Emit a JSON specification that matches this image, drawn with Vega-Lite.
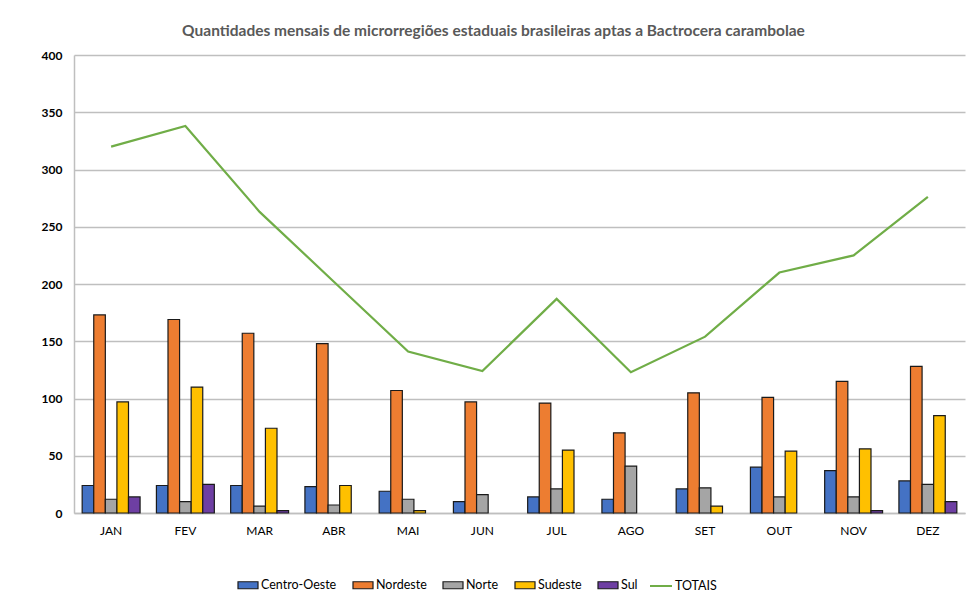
{
  "$schema": "https://vega.github.io/schema/vega-lite/v6.json",
  "width": 891,
  "height": 458,
  "autosize": "none",
  "padding": {"left": 74, "top": 55, "right": 5, "bottom": 87},
  "background": "white",
  "config": {"font": "Lato", "view": {"stroke": null}},
  "title": {
    "text": "Quantidades mensais de microrregiões estaduais brasileiras aptas a Bactrocera carambolae",
    "fontSize": 15.5,
    "fontWeight": "bold",
    "color": "#595959",
    "font": "Lato",
    "offset": 10,
    "dx": -26
  },
  "data": {
    "values": [
      {"mes": "JAN", "regiao": "Centro-Oeste", "v": 24},
      {"mes": "JAN", "regiao": "Nordeste", "v": 173},
      {"mes": "JAN", "regiao": "Norte", "v": 12},
      {"mes": "JAN", "regiao": "Sudeste", "v": 97},
      {"mes": "JAN", "regiao": "Sul", "v": 14},
      {"mes": "JAN", "regiao": "TOTAIS", "v": 320},
      {"mes": "FEV", "regiao": "Centro-Oeste", "v": 24},
      {"mes": "FEV", "regiao": "Nordeste", "v": 169},
      {"mes": "FEV", "regiao": "Norte", "v": 10},
      {"mes": "FEV", "regiao": "Sudeste", "v": 110},
      {"mes": "FEV", "regiao": "Sul", "v": 25},
      {"mes": "FEV", "regiao": "TOTAIS", "v": 338},
      {"mes": "MAR", "regiao": "Centro-Oeste", "v": 24},
      {"mes": "MAR", "regiao": "Nordeste", "v": 157},
      {"mes": "MAR", "regiao": "Norte", "v": 6},
      {"mes": "MAR", "regiao": "Sudeste", "v": 74},
      {"mes": "MAR", "regiao": "Sul", "v": 2},
      {"mes": "MAR", "regiao": "TOTAIS", "v": 263},
      {"mes": "ABR", "regiao": "Centro-Oeste", "v": 23},
      {"mes": "ABR", "regiao": "Nordeste", "v": 148},
      {"mes": "ABR", "regiao": "Norte", "v": 7},
      {"mes": "ABR", "regiao": "Sudeste", "v": 24},
      {"mes": "ABR", "regiao": "Sul", "v": 0},
      {"mes": "ABR", "regiao": "TOTAIS", "v": 202},
      {"mes": "MAI", "regiao": "Centro-Oeste", "v": 19},
      {"mes": "MAI", "regiao": "Nordeste", "v": 107},
      {"mes": "MAI", "regiao": "Norte", "v": 12},
      {"mes": "MAI", "regiao": "Sudeste", "v": 2},
      {"mes": "MAI", "regiao": "Sul", "v": 0},
      {"mes": "MAI", "regiao": "TOTAIS", "v": 141},
      {"mes": "JUN", "regiao": "Centro-Oeste", "v": 10},
      {"mes": "JUN", "regiao": "Nordeste", "v": 97},
      {"mes": "JUN", "regiao": "Norte", "v": 16},
      {"mes": "JUN", "regiao": "Sudeste", "v": 0},
      {"mes": "JUN", "regiao": "Sul", "v": 0},
      {"mes": "JUN", "regiao": "TOTAIS", "v": 124},
      {"mes": "JUL", "regiao": "Centro-Oeste", "v": 14},
      {"mes": "JUL", "regiao": "Nordeste", "v": 96},
      {"mes": "JUL", "regiao": "Norte", "v": 21},
      {"mes": "JUL", "regiao": "Sudeste", "v": 55},
      {"mes": "JUL", "regiao": "Sul", "v": 0},
      {"mes": "JUL", "regiao": "TOTAIS", "v": 187},
      {"mes": "AGO", "regiao": "Centro-Oeste", "v": 12},
      {"mes": "AGO", "regiao": "Nordeste", "v": 70},
      {"mes": "AGO", "regiao": "Norte", "v": 41},
      {"mes": "AGO", "regiao": "Sudeste", "v": 0},
      {"mes": "AGO", "regiao": "Sul", "v": 0},
      {"mes": "AGO", "regiao": "TOTAIS", "v": 123},
      {"mes": "SET", "regiao": "Centro-Oeste", "v": 21},
      {"mes": "SET", "regiao": "Nordeste", "v": 105},
      {"mes": "SET", "regiao": "Norte", "v": 22},
      {"mes": "SET", "regiao": "Sudeste", "v": 6},
      {"mes": "SET", "regiao": "Sul", "v": 0},
      {"mes": "SET", "regiao": "TOTAIS", "v": 154},
      {"mes": "OUT", "regiao": "Centro-Oeste", "v": 40},
      {"mes": "OUT", "regiao": "Nordeste", "v": 101},
      {"mes": "OUT", "regiao": "Norte", "v": 14},
      {"mes": "OUT", "regiao": "Sudeste", "v": 54},
      {"mes": "OUT", "regiao": "Sul", "v": 0},
      {"mes": "OUT", "regiao": "TOTAIS", "v": 210},
      {"mes": "NOV", "regiao": "Centro-Oeste", "v": 37},
      {"mes": "NOV", "regiao": "Nordeste", "v": 115},
      {"mes": "NOV", "regiao": "Norte", "v": 14},
      {"mes": "NOV", "regiao": "Sudeste", "v": 56},
      {"mes": "NOV", "regiao": "Sul", "v": 2},
      {"mes": "NOV", "regiao": "TOTAIS", "v": 225},
      {"mes": "DEZ", "regiao": "Centro-Oeste", "v": 28},
      {"mes": "DEZ", "regiao": "Nordeste", "v": 128},
      {"mes": "DEZ", "regiao": "Norte", "v": 25},
      {"mes": "DEZ", "regiao": "Sudeste", "v": 85},
      {"mes": "DEZ", "regiao": "Sul", "v": 10},
      {"mes": "DEZ", "regiao": "TOTAIS", "v": 276}
    ]
  },
  "encoding": {
    "x": {
      "field": "mes",
      "type": "nominal",
      "sort": ["JAN", "FEV", "MAR", "ABR", "MAI", "JUN", "JUL", "AGO", "SET", "OUT", "NOV", "DEZ"],
      "scale": {"paddingInner": 0.22, "paddingOuter": 0.11},
      "axis": {
        "title": null,
        "labelAngle": 0,
        "labelFontSize": 12,
        "labelColor": "#000000",
        "labelPadding": 12,
        "ticks": false,
        "domainColor": "#BFBFBF",
        "domainWidth": 1.5,
        "grid": false
      }
    },
    "y": {
      "field": "v",
      "type": "quantitative",
      "scale": {"domain": [0, 400]},
      "axis": {
        "title": null,
        "values": [0, 50, 100, 150, 200, 250, 300, 350, 400],
        "labelFontSize": 12,
        "labelFontWeight": "bold",
        "labelColor": "#000000",
        "labelPadding": 12,
        "ticks": false,
        "domainColor": "#BFBFBF",
        "domainWidth": 1.5,
        "gridColor": "#BFBFBF",
        "gridWidth": 1.5
      }
    }
  },
  "layer": [
    {
      "transform": [{"filter": "datum.regiao !== 'TOTAIS' && datum.v > 0"}],
      "mark": {"type": "bar", "stroke": "#1a1a1a", "strokeWidth": 1.2},
      "encoding": {
        "xOffset": {
          "field": "regiao",
          "type": "nominal",
          "scale": {"domain": ["Centro-Oeste", "Nordeste", "Norte", "Sudeste", "Sul"], "paddingInner": 0, "paddingOuter": 0}
        },
        "fill": {
          "field": "regiao",
          "type": "nominal",
          "scale": {
            "domain": ["Centro-Oeste", "Nordeste", "Norte", "Sudeste", "Sul"],
            "range": ["#4472C4", "#ED7D31", "#A5A5A5", "#FFC000", "#6E3FA3"]
          },
          "legend": {
            "title": null,
            "orient": "none",
            "direction": "horizontal",
            "legendX": 163,
            "legendY": 519,
            "labelFontSize": 12.5,
            "labelColor": "#000000",
            "labelOffset": 2,
            "columnPadding": 13,
            "symbolSize": 400,
            "symbolType": "M-1,-0.35H1V0.35H-1Z",
            "symbolStrokeColor": "#1a1a1a",
            "symbolStrokeWidth": 1.2,
            "symbolOpacity": 1
          }
        }
      }
    },
    {
      "transform": [{"filter": "datum.regiao === 'TOTAIS'"}],
      "mark": {"type": "line", "strokeWidth": 2.2},
      "encoding": {
        "stroke": {
          "field": "regiao",
          "type": "nominal",
          "scale": {"domain": ["TOTAIS"], "range": ["#70AD47"]},
          "legend": {
            "title": null,
            "orient": "none",
            "direction": "horizontal",
            "legendX": 575,
            "legendY": 519,
            "labelFontSize": 12.5,
            "labelColor": "#000000",
            "labelOffset": 2,
            "symbolSize": 484,
            "symbolType": "M-1,0H1",
            "symbolStrokeWidth": 2
          }
        }
      }
    }
  ]
}
